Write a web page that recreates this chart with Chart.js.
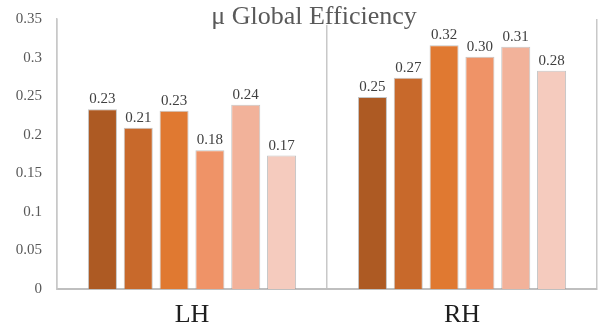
<!DOCTYPE html>
<html>
<head>
<meta charset="utf-8">
<script src="https://cdn.jsdelivr.net/npm/chart.js@4/dist/chart.umd.min.js"></script>
<style>
  html, body { margin: 0; padding: 0; background: #ffffff; }
  #wrap { width: 602px; height: 331px; position: relative; }
</style>
</head>
<body>
<div id="wrap"><canvas id="c"></canvas></div>
<script>
// Hemispheres on the category axis
const categories = ['LH', 'RH'];

// Six measurement series per hemisphere (one bar each)
const series1 = [0.233, 0.249];
const series2 = [0.209, 0.274];
const series3 = [0.231, 0.316];
const series4 = [0.180, 0.301];
const series5 = [0.239, 0.314];
const series6 = [0.173, 0.283];

// Y axis ticks
const yTicks = [0, 0.05, 0.1, 0.15, 0.2, 0.25, 0.3, 0.35];

const chartTitle = 'μ Global Efficiency';

const seriesList = [series1, series2, series3, series4, series5, series6];
const palette = ['#ad5a23', '#c8692b', '#e07931', '#ef9367', '#f2b29a', '#f5cbbe'];

const SERIF = '"Liberation Serif", "Times New Roman", serif';

// Value labels above every bar
const valueLabels = {
  id: 'valueLabels',
  afterDatasetsDraw(chart) {
    const ctx = chart.ctx;
    ctx.save();
    ctx.font = '15px ' + SERIF;
    ctx.fillStyle = '#404040';
    ctx.textAlign = 'center';
    ctx.textBaseline = 'alphabetic';
    chart.data.datasets.forEach((ds, i) => {
      chart.getDatasetMeta(i).data.forEach((bar, j) => {
        ctx.fillText(ds.data[j].toFixed(2), bar.x, bar.y - 6);
      });
    });
    ctx.restore();
  }
};

// Title sitting over the top of the plot area, on a white box
const overlayTitle = {
  id: 'overlayTitle',
  afterDraw(chart) {
    const ctx = chart.ctx;
    ctx.save();
    ctx.font = '26px ' + SERIF;
    const w = ctx.measureText(chartTitle).width;
    const cx = 314;
    ctx.fillStyle = '#ffffff';
    ctx.fillRect(cx - w / 2 - 3, 2, w + 6, 23);
    ctx.fillStyle = '#595959';
    ctx.textAlign = 'center';
    ctx.textBaseline = 'alphabetic';
    ctx.fillText(chartTitle, cx, 24);
    ctx.restore();
  }
};

new Chart(document.getElementById('c'), {
  type: 'bar',
  data: {
    labels: categories,
    datasets: seriesList.map((d, i) => ({
      label: 'S' + (i + 1),
      data: d,
      backgroundColor: palette[i],
      borderColor: 'rgba(150,150,150,0.55)',
      borderWidth: 1,
      borderSkipped: 'bottom',
      categoryPercentage: 0.796,
      barPercentage: 0.81
    }))
  },
  options: {
    responsive: true,
    maintainAspectRatio: false,
    animation: false,
    devicePixelRatio: 1,
    layout: { padding: { top: 19, right: 5, left: 0, bottom: 0 } },
    plugins: {
      legend: { display: false },
      title: { display: false },
      tooltip: { enabled: false }
    },
    scales: {
      x: {
        offset: true,
        grid: {
          display: true,
          offset: true,
          drawTicks: false,
          color: '#c8c8c8',
          lineWidth: 1.5
        },
        border: { display: true, color: '#bfbfbf', width: 2 },
        ticks: {
          font: { family: SERIF, size: 26 },
          color: '#1e1e1e',
          padding: 11
        },
        afterFit(scale) { scale.height = 42; }
      },
      y: {
        min: 0,
        max: 0.35,
        afterBuildTicks(scale) { scale.ticks = yTicks.map(v => ({ value: v })); },
        grid: { display: false },
        border: { display: true, color: '#c8c8c8', width: 1.5 },
        ticks: {
          font: { family: SERIF, size: 15 },
          color: '#595959',
          padding: 7,
          callback: (v) => String(parseFloat(Number(v).toFixed(2)))
        },
        afterFit(scale) { scale.width = 57; }
      }
    }
  },
  plugins: [valueLabels, overlayTitle]
});
</script>
</body>
</html>
